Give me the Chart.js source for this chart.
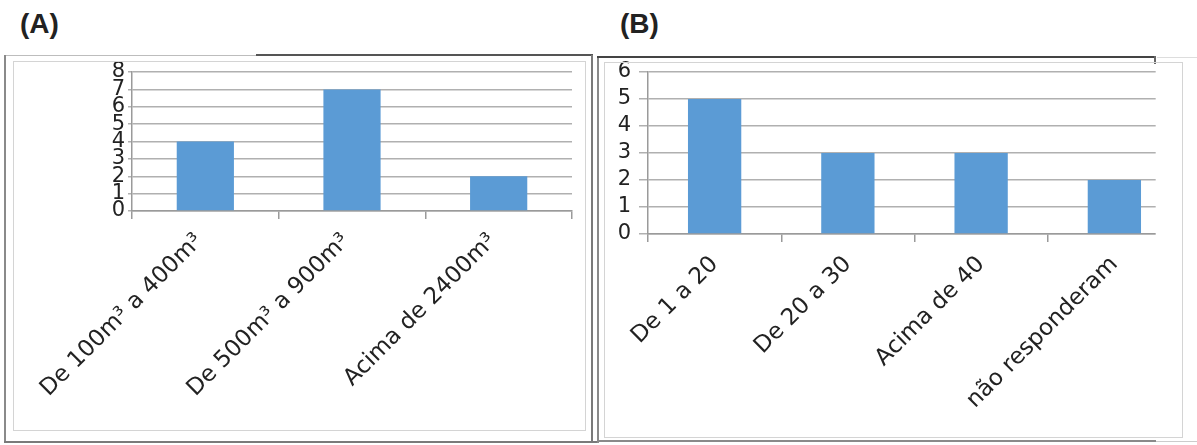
<!DOCTYPE html>
<html>
<head>
<meta charset="utf-8">
<script src="https://cdn.jsdelivr.net/npm/chart.js@4.4.0/dist/chart.umd.min.js"></script>
<style>
    body { margin: 0; width: 1197px; height: 445px; background: #fff; position: relative; overflow: hidden; }
    .title { position: absolute; top: 8px; font: bold 28px "Liberation Sans", Arial, sans-serif; color: #222; }
    .ln { position: absolute; pointer-events: none; z-index: 2; }
    .box { position: absolute; pointer-events: none; z-index: 2; border: 1px solid #d4d4d4; box-sizing: border-box; }
    canvas { position: absolute; top: 0; }
</style>
</head>
<body>
<div class="title" style="left:20px">(A)</div>
<div class="title" style="left:620px">(B)</div>

<!-- panel A frame -->
<div class="ln" style="left:4px;top:55px;width:252px;height:1px;background:#bdbdbd"></div>
<div class="ln" style="left:256px;top:54px;width:337px;height:2px;background:#555"></div>
<div class="ln" style="left:4px;top:55px;width:2px;height:388px;background:#8a8a8a"></div>
<div class="ln" style="left:4px;top:441px;width:593px;height:2px;background:#7a7a7a"></div>
<div class="ln" style="left:591px;top:55px;width:2px;height:388px;background:#7a7a7a"></div>
<div class="box" style="left:13px;top:61px;width:573px;height:370px"></div>

<!-- panel B frame -->
<div class="ln" style="left:597px;top:56px;width:2px;height:387px;background:#8a8a8a"></div>
<div class="ln" style="left:597px;top:56px;width:559px;height:2px;background:#444"></div>
<div class="ln" style="left:1154px;top:56px;width:2px;height:8px;background:#666"></div>
<div class="ln" style="left:1157px;top:57px;width:40px;height:1px;background:#ddd"></div>
<div class="ln" style="left:597px;top:440px;width:559px;height:2px;background:#8a8a8a"></div>
<div class="ln" style="left:1156px;top:441px;width:41px;height:1px;background:#ccc"></div>
<div class="box" style="left:604px;top:62px;width:579px;height:376px"></div>

<canvas id="chartA" style="left:0px"></canvas>
<canvas id="chartB" style="left:597px"></canvas>

<script>
// Panel A: volume ranges
const categoriesA = ['De 100m³ a 400m³', 'De 500m³ a 900m³', 'Acima de 2400m³'];
const valuesA = [4, 7, 2];
const yTicksA = [0, 1, 2, 3, 4, 5, 6, 7, 8];

// Panel B: count ranges
const categoriesB = ['De 1 a 20', 'De 20 a 30', 'Acima de 40', 'não responderam'];
const valuesB = [5, 3, 3, 2];
const yTicksB = [0, 1, 2, 3, 4, 5, 6];

const barColor = '#5b9bd5';
const gridColor = '#b0b0b0';
const axisColor = '#9a9a9a';
const catFont = { family: '"DejaVu Sans", sans-serif', size: 23 };
const numFont = { family: '"DejaVu Sans", sans-serif', size: 21 };

// hides the part of the plot that is cut off at the right in the original picture
const cropRight = {
    id: 'cropRight',
    afterDraw(chart, args, opts) {
        if (!opts.fraction) return;
        const x = chart.scales.x;
        const { ctx, chartArea } = chart;
        const last = x.getPixelForTick(x.ticks.length - 1);
        const cut = last + (x.width / x.ticks.length) * opts.fraction;
        ctx.save();
        ctx.fillStyle = '#fff';
        ctx.fillRect(cut, chartArea.top - 6, chart.width - cut, chartArea.bottom - chartArea.top + 20);
        ctx.restore();
    }
};

function makeChart(id, cfg) {
    const canvas = document.getElementById(id);
    canvas.style.width = cfg.width + 'px';
    canvas.style.height = '445px';
    canvas.width = cfg.width;
    canvas.height = 445;

    return new Chart(canvas.getContext('2d'), {
        type: 'bar',
        data: {
            labels: cfg.labels,
            datasets: [{
                data: cfg.values,
                backgroundColor: barColor,
                borderWidth: 0,
                categoryPercentage: 1,
                barPercentage: cfg.barPct
            }]
        },
        options: {
            responsive: false,
            animation: false,
            devicePixelRatio: 1,
            layout: { padding: { top: cfg.top, right: cfg.right, left: 0, bottom: 0 } },
            plugins: {
                legend: { display: false },
                tooltip: { enabled: false },
                cropRight: { fraction: cfg.crop }
            },
            scales: {
                x: {
                    grid: { drawOnChartArea: false, drawTicks: true, tickLength: 8, color: axisColor, lineWidth: 1.5 },
                    border: { color: axisColor, width: 1.5 },
                    ticks: {
                        minRotation: 45, maxRotation: 45, autoSkip: false, padding: 9,
                        labelOffset: cfg.labelShift, color: '#222', font: catFont
                    },
                    afterFit: (s) => { s.height = 445 - cfg.bottom; }
                },
                y: {
                    min: 0,
                    max: cfg.yTicks[cfg.yTicks.length - 1],
                    afterBuildTicks: (s) => { s.ticks = cfg.yTicks.map(v => ({ value: v })); },
                    grid: { color: gridColor, lineWidth: 1.5, tickLength: cfg.yTickLen },
                    border: { color: axisColor, width: 1.5 },
                    ticks: { autoSkip: false, padding: cfg.yPad, color: '#222', font: numFont },
                    afterFit: (s) => { s.width = cfg.left; }
                }
            }
        },
        plugins: [cropRight]
    });
}

makeChart('chartA', {
    width: 595, labels: categoriesA, values: valuesA, yTicks: yTicksA,
    top: 72, bottom: 211, left: 132, right: 23, barPct: 0.39, yTickLen: 4, yPad: 3,
    labelShift: -6, crop: 0
});

makeChart('chartB', {
    width: 600, labels: categoriesB, values: valuesB, yTicks: yTicksB,
    top: 72, bottom: 234, left: 51, right: 16, barPct: 0.40, yTickLen: 9, yPad: 8,
    labelShift: 0, crop: 0.31
});
</script>
</body>
</html>
